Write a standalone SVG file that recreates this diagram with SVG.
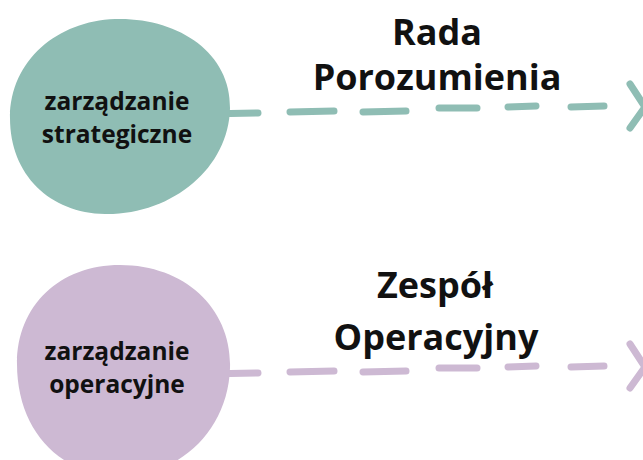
<svg xmlns="http://www.w3.org/2000/svg" width="643" height="460" viewBox="0 0 643 460">
<style>
.lbl{font-family:"Open Sans","Liberation Sans",sans-serif;font-weight:700;fill:#111;text-anchor:middle}
.node{font-size:24.5px}
.title{font-size:36px}
.teal{stroke:#8fbdb4;stroke-width:7;stroke-linecap:round;stroke-linejoin:round;fill:none}
.lilac{stroke:#cdb9d3;stroke-width:7;stroke-linecap:round;stroke-linejoin:round;fill:none}
</style>
<rect width="643" height="460" fill="#fff"/>
<g id="connectors">
<g id="arrow-strategic" class="teal">
<path d="M205 114 L258 113"/>
<path d="M290 112 L334 111"/>
<path d="M363 112 L406 111"/>
<path d="M439 108 L477 108"/>
<path d="M508 107 L536 106"/>
<path d="M571 107 L604 106"/>
<path d="M630 84 L645 107 L630 128"/>
</g>
<g id="arrow-operational" class="lilac">
<path d="M205 374 L258 373"/>
<path d="M290 372 L334 371"/>
<path d="M363 372 L406 371"/>
<path d="M439 368 L477 368"/>
<path d="M508 367 L536 366"/>
<path d="M571 367 L604 366"/>
<path d="M630 344 L645 367 L630 388"/>
</g>
</g>
<g id="node-strategic">
<path d="M115 19 C177 17 231 52 230 108 C229 168 172 215 105 214 C50 213 10 175 10 118 C10 60 58 21 115 19 Z" fill="#8fbdb4"/>
<text class="lbl node" x="117" y="110">zarządzanie</text>
<text class="lbl node" x="117" y="143">strategiczne</text>
</g>
<g id="node-operational">
<path d="M120 265 C186 265 232 310 230 368 C228 430 180 476 120 476 C60 476 17 430 17 364 C17 305 60 265 120 265 Z" fill="#cdb9d3"/>
<text class="lbl node" x="117" y="360">zarządzanie</text>
<text class="lbl node" x="117" y="393">operacyjne</text>
</g>
<g id="label-rada">
<text class="lbl title" x="437" y="45">Rada</text>
<text class="lbl title" x="437" y="90">Porozumienia</text>
</g>
<g id="label-zespol">
<text class="lbl title" x="435" y="298">Zespół</text>
<text class="lbl title" x="436" y="350">Operacyjny</text>
</g>
</svg>
